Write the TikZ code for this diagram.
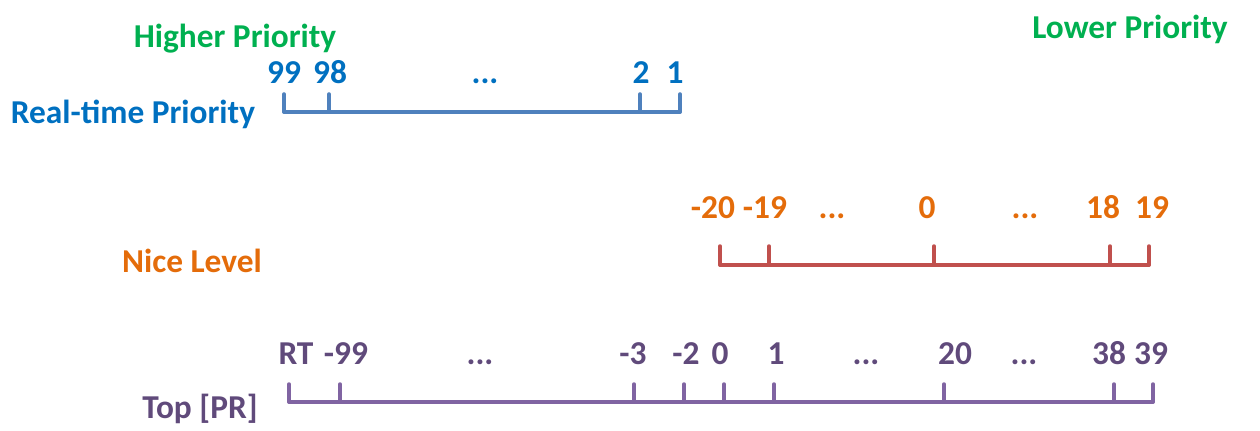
\documentclass[tikz,border=0pt]{standalone}
\usepackage{fontspec}
\setmainfont{Carlito}
\usepackage{tikz}
\usetikzlibrary{positioning}
\definecolor{hgreen}{RGB}{0,176,80}
\definecolor{rtblue}{RGB}{0,112,192}
\definecolor{rtline}{RGB}{79,129,189}
\definecolor{niceorange}{RGB}{228,108,10}
\definecolor{niceline}{RGB}{192,80,77}
\definecolor{toppurple}{RGB}{96,74,123}
\definecolor{topline}{RGB}{128,100,162}
\newcommand{\skipdots}{...}

\begin{document}
\begin{tikzpicture}[x=0.02cm,y=-0.02cm]
                \tikzstyle{lbl} = [font=\bfseries\fontsize{19}{22}\selectfont, inner sep=0pt, anchor=base]
                \tikzstyle{axisline} = [line width=2pt, line cap=round, line join=round]
                \useasboundingbox (0,0) rectangle (1260,430);

                % headings
                \node (higher) [lbl, text=hgreen] at (235,47) {Higher Priority};
                \node (lower) [lbl, text=hgreen] at (1130,38) {Lower Priority};
                \node (rtname) [lbl, text=rtblue] at (133,123) {Real-time Priority};
                \node (nicename) [lbl, text=niceorange] at (192,272) {Nice Level};
                \node (topname) [lbl, text=toppurple] at (200,418) {Top [PR]};

                % real-time priority scale
                \foreach \x [count=\i] in {284,329,640,680}{
                    \coordinate (rt\i) at (\x,112);
                    \coordinate (rtt\i) at (\x,94);
                }
                \foreach \x/\t in {284/99,330/98,485/\skipdots,641/2,675/1}
                    \node [lbl, text=rtblue] at (\x,83) {\t};
                \draw [axisline, draw=rtline] (rt1) -- (rt4);
                \foreach \i in {1,2,3,4}
                    \draw [axisline, draw=rtline] (rt\i) -- (rtt\i);

                % nice level scale
                \foreach \x [count=\i] in {720,769,934,1110,1149}{
                    \coordinate (nl\i) at (\x,265);
                    \coordinate (nlt\i) at (\x,246);
                }
                \foreach \x/\t in {713/-20,765/-19,832/\skipdots,927/0,1025/\skipdots,1103/18,1152/19}
                    \node [lbl, text=niceorange] at (\x,218) {\t};
                \draw [axisline, draw=niceline] (nl1) -- (nl5);
                \foreach \i in {1,2,3,4,5}
                    \draw [axisline, draw=niceline] (nl\i) -- (nlt\i);

                % top scale
                \foreach \x [count=\i] in {289,340,634,684,724,774,944,1114,1153}{
                    \coordinate (tp\i) at (\x,402);
                    \coordinate (tpt\i) at (\x,384);
                }
                \foreach \x/\t in {296/RT,346/-99,480/\skipdots,633/-3,686/-2,720/0,776/1,866/\skipdots,955/20,1024/\skipdots,1109/38,1151/39}
                    \node [lbl, text=toppurple] at (\x,364) {\t};
                \draw [axisline, draw=topline] (tp1) -- (tp9);
                \foreach \i in {1,2,3,4,5,6,7,8,9}
                    \draw [axisline, draw=topline] (tp\i) -- (tpt\i);
            \end{tikzpicture}
\end{document}
